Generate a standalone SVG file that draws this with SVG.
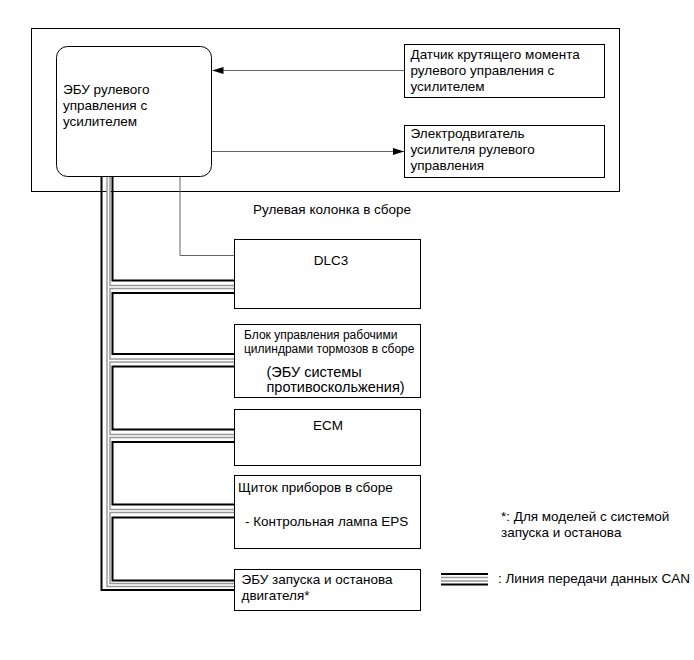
<svg xmlns="http://www.w3.org/2000/svg" width="694" height="660" viewBox="0 0 694 660">
<defs>
<marker id="arr" markerWidth="11" markerHeight="7" refX="11" refY="3.5" orient="auto" markerUnits="userSpaceOnUse"><path d="M0,0 L11,3.5 L0,7 Z" fill="#000"/></marker>
</defs>
<style>
.box{fill:#fff;stroke:#000;stroke-width:1}
.frame{fill:none;stroke:#000;stroke-width:1}
.t{font-family:"Liberation Sans",Arial,sans-serif;font-size:13.5px;fill:#000}
.s{font-size:12px}
.l{font-size:14.5px}
.thin{fill:none;stroke:#666;stroke-width:1}
.blk{fill:none;stroke:#000;stroke-width:2}
.gry{fill:none;stroke:#999;stroke-width:4.5}
.wht{fill:none;stroke:#fff;stroke-width:1.5}
</style>
<rect width="694" height="660" fill="#fff"/>
<g id="steering-column">
<rect class="frame" x="31.5" y="28.5" width="588" height="163"/>
<text class="t" x="253" y="214">Рулевая колонка в сборе</text>
</g>
<g id="connectors">
<path class="thin" d="M404,70.5 H212.5" marker-end="url(#arr)"/>
<path class="thin" d="M212,151.5 H404" marker-end="url(#arr)"/>
<path class="thin" d="M180,177 V255.5 H234"/>
<path class="blk" d="M101.5,176 V590 H234"/>
<path class="gry" d="M108.5,176 V585 H234 M108.5,287 H234 M108.5,360.5 H234 M108.5,436 H234 M108.5,511 H234"/>
<path class="wht" d="M108.5,176 V585 H234 M108.5,287 H234 M108.5,360.5 H234 M108.5,436 H234 M108.5,511 H234"/>
<path class="blk" d="M112.5,176 V280.5 H234 M234,293 H112.5 V354 H234 M234,366.5 H112.5 V429.5 H234 M234,442 H112.5 V504.5 H234 M234,517.5 H112.5 V580.5 H234"/>
</g>
<g id="eps-ecu">
<rect class="box" x="56.5" y="46.5" width="155" height="130" rx="11"/>
<text class="t" x="63" y="94">ЭБУ рулевого</text>
<text class="t" x="63" y="110">управления с</text>
<text class="t" x="63" y="126">усилителем</text>
</g>
<g id="torque-sensor">
<rect class="box" x="404.5" y="44.5" width="200" height="53"/>
<text class="t" x="410.5" y="58.5">Датчик крутящего момента</text>
<text class="t" x="410.5" y="74.5">рулевого управления с</text>
<text class="t" x="410.5" y="90.5">усилителем</text>
</g>
<g id="motor">
<rect class="box" x="404.5" y="125.5" width="200" height="52"/>
<text class="t" x="410.5" y="137.5">Электродвигатель</text>
<text class="t" x="410.5" y="153.5">усилителя рулевого</text>
<text class="t" x="410.5" y="169.5">управления</text>
</g>
<g id="dlc3">
<rect class="box" x="234.5" y="239.5" width="186" height="69"/>
<text class="t" x="331" y="265" text-anchor="middle">DLC3</text>
</g>
<g id="brake-ecu">
<rect class="box" x="234.5" y="324.5" width="186" height="73"/>
<text class="t s" x="244" y="339">Блок управления рабочими</text>
<text class="t s" x="244" y="352.5">цилиндрами тормозов в сборе</text>
<text class="t l" x="266.5" y="376.5">(ЭБУ системы</text>
<text class="t l" x="266.5" y="392">противоскольжения)</text>
</g>
<g id="ecm">
<rect class="box" x="234.5" y="409.5" width="186" height="56"/>
<text class="t" x="328" y="430" text-anchor="middle">ECM</text>
</g>
<g id="combination-meter">
<rect class="box" x="234.5" y="475.5" width="186" height="73"/>
<text class="t" x="238" y="492">Щиток приборов в сборе</text>
<text class="t" x="245" y="526">- Контрольная лампа EPS</text>
</g>
<g id="stop-start-ecu">
<rect class="box" x="234.5" y="569.5" width="186" height="41"/>
<text class="t" x="241.5" y="584">ЭБУ запуска и останова</text>
<text class="t" x="241.5" y="600">двигателя*</text>
</g>
<g id="notes">
<text class="t" x="501" y="521">*: Для моделей с системой</text>
<text class="t" x="501" y="537">запуска и останова</text>
<path class="blk" d="M441,574 H488 M441,584.5 H488"/>
<path d="M441,577.5 H488 M441,581 H488" fill="none" stroke="#999" stroke-width="1.5"/>
<text class="t" x="498" y="583">: Линия передачи данных CAN</text>
</g>
</svg>
